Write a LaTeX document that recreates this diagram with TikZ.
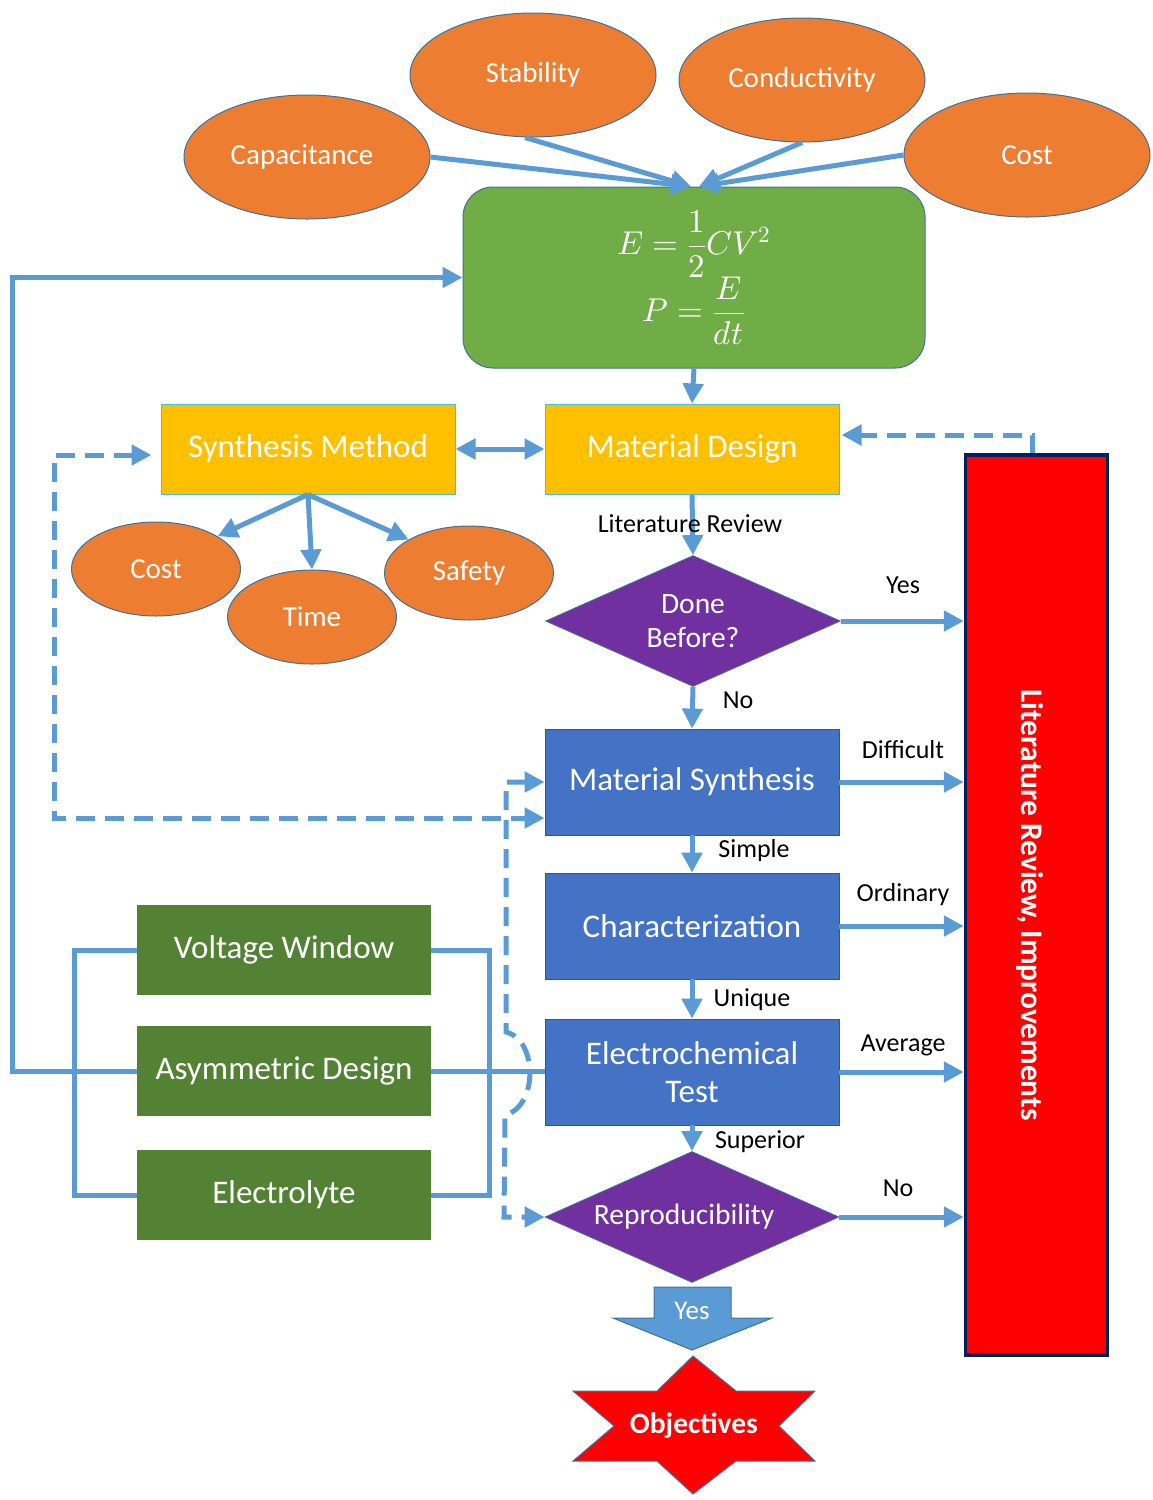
\documentclass[tikz,border=0pt]{standalone}
\usepackage{fontspec}
\usepackage{unicode-math}
\setmainfont{Carlito}
\setmathfont{Latin Modern Math}
\usetikzlibrary{arrows.meta,shapes.geometric,calc}
\definecolor{orng}{HTML}{ED7D31}
\definecolor{edgeb}{HTML}{41719C}
\definecolor{grn}{HTML}{70AD47}
\definecolor{dgrn}{HTML}{548235}
\definecolor{yel}{HTML}{FFC000}
\definecolor{yelb}{HTML}{3FBFEF}
\definecolor{blu}{HTML}{4472C4}
\definecolor{blub}{HTML}{2F5597}
\definecolor{purp}{HTML}{7030A0}
\definecolor{lb}{HTML}{5B9BD5}
\definecolor{navy}{HTML}{002060}
\tikzset{
  oval/.style={ellipse, fill=orng, draw=edgeb, line width=1pt, text=white, inner sep=0pt, font=\fontsize{29}{32}\selectfont},
  bigoval/.style={oval, minimum width=246pt, minimum height=124pt},
  smalloval/.style={oval, minimum width=169pt, minimum height=94pt},
  ybox/.style={rectangle, fill=yel, draw=yelb, line width=1pt, text=white, minimum width=294pt, minimum height=90pt, font=\fontsize{33}{36}\selectfont},
  bbox/.style={rectangle, fill=blu, draw=blub, line width=0.8pt, text=white, minimum width=294pt, minimum height=106pt, align=center, font=\fontsize{33}{38}\selectfont},
  gbox/.style={rectangle, fill=dgrn, draw=none, text=white, minimum width=294pt, minimum height=90pt, font=\fontsize{33}{36}\selectfont},
  dmd/.style={diamond, aspect=2.25, fill=purp, draw=edgeb, line width=0.8pt, text=white, inner sep=0pt, minimum width=295pt, minimum height=131pt, align=center, font=\fontsize{29.5}{34}\selectfont},
  lbl/.style={text=black, inner sep=0pt, font=\fontsize{26}{29}\selectfont},
  conn/.style={draw=lb, line width=5pt},
  arr/.style={conn, -{Triangle[length=20pt,width=20pt]}},
  darr/.style={conn, {Triangle[length=20pt,width=20pt]}-{Triangle[length=20pt,width=20pt]}},
  dsh/.style={dash pattern=on 19pt off 10pt},
}
\begin{document}
\begin{tikzpicture}[x=1pt,y=-1pt]
\path[use as bounding box, fill=white] (0,0) rectangle (1152,1500);

% equation box
\node[rectangle, rounded corners=30pt, fill=grn, draw=edgeb, line width=1pt, minimum width=462pt, minimum height=181pt, text=white, align=center, font=\fontsize{33}{36}\selectfont] (eq) at (694,277.5)
  {$\displaystyle E=\frac{1}{2}CV^{2}$\\[-1pt]$\displaystyle P=\frac{E}{dt}$};

% top ovals
\node[bigoval] (stab) at (533,75) {Stability};
\node[bigoval] (cond) at (802,80) {Conductivity};
\node[bigoval] (cap) at (307,157) {\hspace*{-10pt}Capacitance};
\node[bigoval] (costt) at (1027,155) {Cost};

\coordinate (tipL) at ($(eq.north)+(-3,0)$);
\coordinate (tipR) at ($(eq.north)+(5,0)$);
\draw[arr] (cap.east) -- (tipL);
\draw[arr] ($(stab.south)+(-8,0)$) -- (tipL);
\draw[arr] (cond.south) -- (tipR);
\draw[arr] (costt.west) -- (tipR);

% yellow boxes
\node[ybox] (syn) at (308,449) {Synthesis Method};
\node[ybox] (md) at (692,449) {Material Design};
\draw[arr] (eq.south) -- (md.north);
\draw[darr] (syn.east) -- (md.west);

% small ovals
\node[smalloval] (cost2) at (156,569) {Cost};
\node[smalloval] (time) at (312,617) {Time};
\node[smalloval] (safe) at (469,573) {Safety};
\draw[arr] (syn.south) -- (cost2.28);
\draw[arr] (syn.south) -- (time.north);
\draw[arr] (syn.south) -- (safe.151);

% literature box
\node[rectangle, fill=red, draw=navy, line width=3.5pt, minimum width=142pt, minimum height=900pt] (lit) at (1036.5,905) {};
\node[rotate=-90, text=white, font=\bfseries\fontsize{31.4}{35}\selectfont] (littext) at (1030,905) {Literature Review, Improvements};

% flow
\node[dmd] (done) at (693,621) {Done\\Before?};
\node[bbox] (ms) at (692,782) {Material Synthesis};
\node[bbox] (ch) at (692,926) {Characterization};
\node[bbox] (et) at (692,1072) {Electrochemical\\Test};
\node[dmd, minimum width=294pt] (rep) at (692,1217) {\hspace*{-16pt}Reproducibility};

\draw[arr] (md.south) -- (done.north);
\node[lbl] (lr) at (690,524) {Literature Review};
\draw[arr] (done.east) -- (done.east -| lit.west);
\node[lbl] (lyes) at (903,585) {Yes};
\draw[arr] (done.south) -- (ms.north);
\node[lbl] (lno) at (738,700) {No};
\draw[arr] (ms.east) -- (ms.east -| lit.west);
\node[lbl] (ldif) at (903,750) {Difficult};
\draw[arr] (ms.south) -- (ch.north);
\node[lbl] (lsim) at (754,851) {Simple};
\draw[arr] (ch.east) -- (ch.east -| lit.west);
\node[lbl] (lord) at (903,895) {Ordinary};
\draw[arr] (ch.south) -- (et.north);
\node[lbl] (luni) at (752,1000) {Unique};
\draw[arr] (et.east) -- (et.east -| lit.west);
\node[lbl] (lavg) at (903,1045) {Average};
\draw[arr] (et.south) -- (rep.north);
\node[lbl] (lsup) at (760,1142) {Superior};
\draw[arr] (rep.east) -- (rep.east -| lit.west);
\node[lbl] (lno2) at (898,1188) {No};

% dashed feedback from literature box
\draw[conn, dsh, -{Triangle[length=20pt,width=20pt]}] ($(lit.north)+(-4,0)$) |- ($(md.east)+(2,-14)$);

% green boxes
\node[gbox] (vw) at (284,950) {Voltage Window};
\node[gbox] (asym) at (284,1071) {Asymmetric Design};
\node[gbox] (el) at (284,1195) {Electrolyte};
\draw[conn] (vw.west) -- ++(-62,0) |- (el.west);
\draw[conn] (vw.east) -- ++(58,0) |- (el.east);
\draw[conn] (asym.east) -- (asym.east -| et.west);
\draw[arr] (asym.west) -- ++(-124,0) |- (eq.west);

% dashed loops
\draw[conn, dsh, {Triangle[length=20pt,width=20pt]}-{Triangle[length=20pt,width=20pt]}]
  ($(syn.west)+(-9,6)$) -- (54,455) -- (54,818) -- ($(ms.west)+(0,36)$);
\draw[conn, dsh, {Triangle[length=20pt,width=20pt]}-{Triangle[length=20pt,width=20pt]}]
  (ms.west) -- (506,782) -- (506,1032) .. controls (538,1040) and (538,1107) .. (505,1115) -- (504,1217) -- (rep.west);

% yes block arrow
\draw[fill=lb, draw=edgeb, line width=1pt] (654,1287) -- (731,1287) -- (731,1318) -- (772,1318) -- (692,1350) -- (613,1318) -- (654,1318) -- cycle;
\node[text=white, font=\fontsize{27}{30}\selectfont] (yesarr) at (692,1311) {Yes};

% objectives star
\draw[fill=red, draw=edgeb, line width=1pt] (693,1356) -- (736,1391) -- (815,1391) -- (779,1426) -- (815,1461) -- (736,1461) -- (693,1494) -- (657,1461) -- (573,1461) -- (614,1426) -- (573,1391) -- (657,1391) -- cycle;
\node[text=white, font=\bfseries\fontsize{29.5}{32}\selectfont] (obj) at (694,1426) {Objectives};
\end{tikzpicture}
\end{document}
